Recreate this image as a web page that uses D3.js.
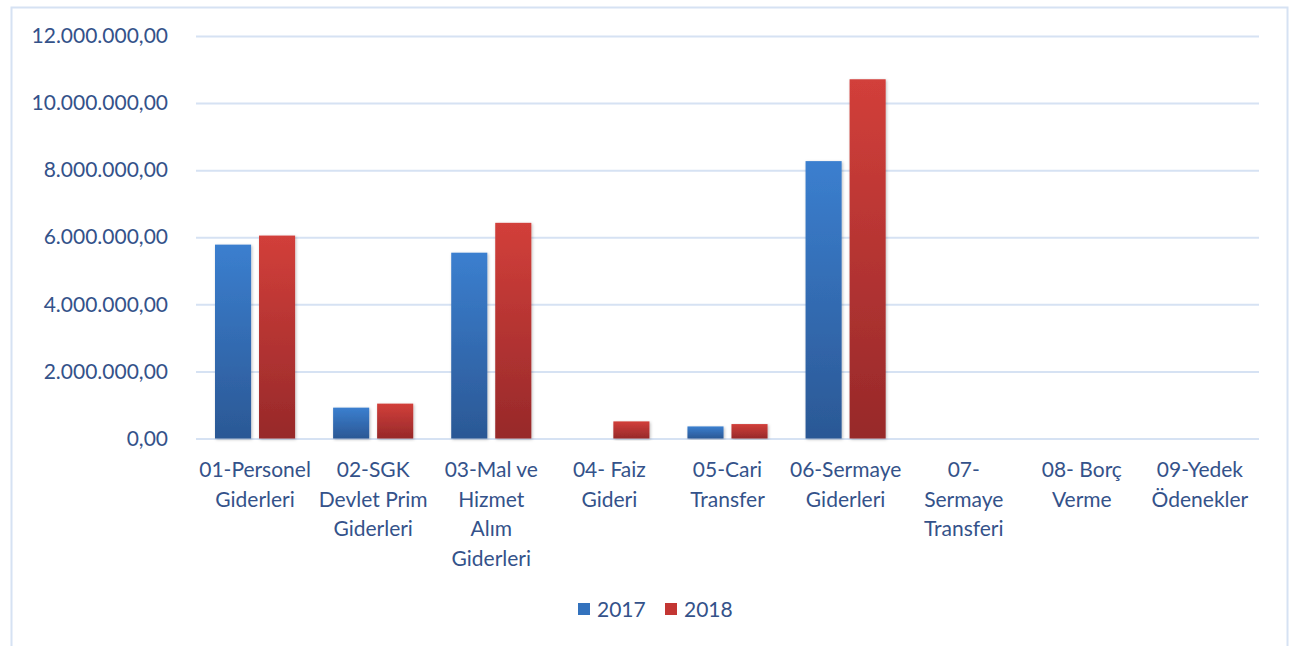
<!DOCTYPE html>
<html>
<head>
<meta charset="utf-8">
<script src="https://cdn.jsdelivr.net/npm/d3@7"></script>
<style>
  body { margin: 0; background: #fff; }
  svg text { font-family: Lato, "Open Sans", sans-serif; fill: #34528a; }
</style>
</head>
<body>
<script>
const categories = [
  ["01-Personel", "Giderleri"],
  ["02-SGK", "Devlet Prim", "Giderleri"],
  ["03-Mal ve", "Hizmet", "Alım", "Giderleri"],
  ["04- Faiz", "Gideri"],
  ["05-Cari", "Transfer"],
  ["06-Sermaye", "Giderleri"],
  ["07-", "Sermaye", "Transferi"],
  ["08- Borç", "Verme"],
  ["09-Yedek", "Ödenekler"]
];
const years = ["2017", "2018"];
const values2017 = [5780000, 920000, 5540000, 0, 360000, 8270000, 0, 0, 0];
const values2018 = [6050000, 1040000, 6430000, 510000, 430000, 10710000, 0, 0, 0];
const yTicks = [0, 2000000, 4000000, 6000000, 8000000, 10000000, 12000000];

const W = 1289, H = 646;
const plot = { left: 196, right: 1259, top: 36, bottom: 438.5 };

const svg = d3.select("body").append("svg")
  .attr("width", W)
  .attr("height", H);

// chart frame
svg.append("rect")
  .attr("x", 11.5).attr("y", 7.5)
  .attr("width", 1276).attr("height", 645)
  .attr("fill", "none")
  .attr("stroke", "#d6e2f3")
  .attr("stroke-width", 2);

const defs = svg.append("defs");
const grads = [["g2017", "#3b7fcf", "#2b5895"], ["g2018", "#d23f3a", "#97292a"]];
grads.forEach(([id, top, bottom]) => {
  const g = defs.append("linearGradient").attr("id", id)
    .attr("x1", 0).attr("y1", 0).attr("x2", 0).attr("y2", 1);
  g.append("stop").attr("offset", "0%").attr("stop-color", top);
  g.append("stop").attr("offset", "100%").attr("stop-color", bottom);
});
const shadow = defs.append("filter").attr("id", "shadow")
  .attr("x", "-20%").attr("y", "-5%").attr("width", "140%").attr("height", "115%");
shadow.append("feDropShadow")
  .attr("dx", 1).attr("dy", 1).attr("stdDeviation", 1.5)
  .attr("flood-color", "#000").attr("flood-opacity", 0.25);

const x = d3.scaleBand()
  .domain(d3.range(categories.length))
  .range([plot.left, plot.right]);
const x1 = d3.scaleBand()
  .domain(years)
  .range([19, x.bandwidth() - 19])
  .paddingInner(0.18);
const y = d3.scaleLinear()
  .domain([0, 12000000])
  .range([plot.bottom, plot.top]);

const fmt = v => d3.format(",.2f")(v).replace(/,/g, "#").replace(".", ",").replace(/#/g, ".");

const yAxis = svg.append("g")
  .attr("transform", `translate(${plot.left},0)`)
  .call(d3.axisLeft(y).tickValues(yTicks).tickFormat(fmt)
    .tickSize(-(plot.right - plot.left)).tickPadding(28));
yAxis.select(".domain").remove();
yAxis.selectAll(".tick line").attr("stroke", "#d6e2f3").attr("stroke-width", 2);
yAxis.selectAll(".tick text").style("font-size", "21px").attr("fill", "#34528a");

const series = [values2017, values2018];
categories.forEach((c, i) => {
  const g = svg.append("g").attr("transform", `translate(${x(i)},0)`);
  years.forEach((yr, s) => {
    const v = series[s][i];
    if (!v) return;
    g.append("rect")
      .attr("x", x1(yr))
      .attr("y", y(v))
      .attr("width", x1.bandwidth())
      .attr("height", y(0) - y(v))
      .attr("fill", `url(#g${yr})`)
      .attr("filter", "url(#shadow)");
  });
  const t = g.append("text")
    .attr("text-anchor", "middle")
    .style("font-size", "21px");
  c.forEach((line, k) => {
    t.append("tspan")
      .attr("x", x.bandwidth() / 2)
      .attr("y", 477 + k * 29.7)
      .text(line);
  });
});

// legend
const legend = svg.append("g").attr("transform", "translate(578,610)");
const legendItems = [["2017", "#3372bd", 0], ["2018", "#c33633", 87]];
legendItems.forEach(([label, color, dx]) => {
  legend.append("rect")
    .attr("x", dx).attr("y", -7)
    .attr("width", 12).attr("height", 12)
    .attr("fill", color);
  legend.append("text")
    .attr("x", dx + 19).attr("y", 0)
    .attr("dy", "0.35em")
    .style("font-size", "21px")
    .text(label);
});
</script>
</body>
</html>
